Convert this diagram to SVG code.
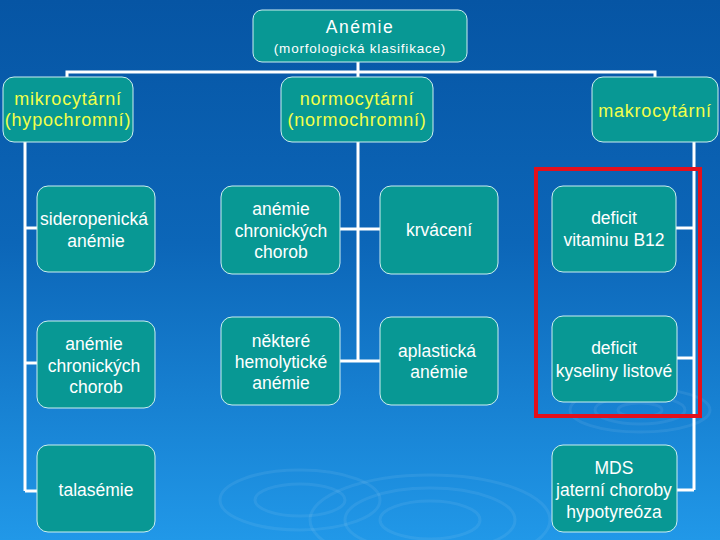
<svg xmlns="http://www.w3.org/2000/svg" width="720" height="540" viewBox="0 0 720 540">
<defs>
<linearGradient id="bg" x1="0" y1="0" x2="0" y2="1">
<stop offset="0" stop-color="#0655a4"/>
<stop offset="0.45" stop-color="#0c66b8"/>
<stop offset="1" stop-color="#2198e8"/>
</linearGradient>
<style>
.box{fill:#089894;stroke:#cdeff0;stroke-width:1}
.t{font-family:"Liberation Sans",Arial,sans-serif;font-size:17.5px;fill:#ffffff;text-anchor:middle}
.y{font-family:"Liberation Sans",Arial,sans-serif;font-size:18px;fill:#f2ff4a;text-anchor:middle;letter-spacing:0.8px}
.c{fill:none;stroke:#ffffff;stroke-width:3}
.r{fill:none;stroke:#ffffff;stroke-opacity:0.07;stroke-width:3}
</style>
</defs>
<rect width="720" height="540" fill="url(#bg)"/>
<g id="ripples">
<ellipse class="r" cx="640" cy="410" rx="70" ry="22"/>
<ellipse class="r" cx="640" cy="410" rx="45" ry="14"/>
<ellipse class="r" cx="640" cy="410" rx="22" ry="7"/>
<ellipse class="r" cx="430" cy="520" rx="120" ry="45"/>
<ellipse class="r" cx="430" cy="520" rx="85" ry="32"/>
<ellipse class="r" cx="430" cy="520" rx="50" ry="19"/>
<ellipse class="r" cx="300" cy="500" rx="80" ry="30"/>
<ellipse class="r" cx="300" cy="500" rx="45" ry="16"/>
</g>
<g id="connectors">
<line class="c" x1="358" y1="62" x2="358" y2="72"/>
<polyline class="c" points="67,77 67,72 655,72 655,77"/>
<line class="c" x1="358" y1="72" x2="358" y2="77"/>
<line class="c" x1="25" y1="142" x2="25" y2="491"/>
<line class="c" x1="25" y1="228" x2="37" y2="228"/>
<line class="c" x1="25" y1="363" x2="37" y2="363"/>
<line class="c" x1="25" y1="491" x2="37" y2="491"/>
<line class="c" x1="358" y1="142" x2="358" y2="361"/>
<line class="c" x1="340" y1="229" x2="380" y2="229"/>
<line class="c" x1="340" y1="361" x2="380" y2="361"/>
<line class="c" x1="694" y1="142" x2="694" y2="490"/>
<line class="c" x1="676" y1="228" x2="694" y2="228"/>
<line class="c" x1="677" y1="358" x2="694" y2="358"/>
<line class="c" x1="677" y1="490" x2="694" y2="490"/>
</g>
<g id="root">
<rect class="box" x="253" y="10" width="214" height="52" rx="9"/>
<text class="t" x="360" y="33" font-size="17" letter-spacing="1.5">Anémie</text>
<text class="t" x="360" y="53" style="font-size:13.5px" letter-spacing="0.8">(morfologická klasifikace)</text>
</g>
<g id="mikro">
<rect class="box" x="3" y="77" width="130" height="65" rx="11"/>
<text class="y" x="68" y="105">mikrocytární</text>
<text class="y" x="68" y="126">(hypochromní)</text>
</g>
<g id="normo">
<rect class="box" x="281" y="77" width="152" height="65" rx="11"/>
<text class="y" x="357" y="105">normocytární</text>
<text class="y" x="357" y="126">(normochromní)</text>
</g>
<g id="makro">
<rect class="box" x="592" y="77" width="126" height="65" rx="11"/>
<text class="y" x="655" y="117">makrocytární</text>
</g>
<g id="sideropenicka">
<rect class="box" x="37" y="186" width="118" height="86" rx="11"/>
<text class="t" x="94" y="225">sideropenická</text>
<text class="t" x="96" y="247">anémie</text>
</g>
<g id="acch1">
<rect class="box" x="37" y="321" width="118" height="87" rx="11"/>
<text class="t" x="94" y="350">anémie</text>
<text class="t" x="94" y="372">chronických</text>
<text class="t" x="96" y="393">chorob</text>
</g>
<g id="talasemie">
<rect class="box" x="37" y="445" width="118" height="87" rx="11"/>
<text class="t" x="96" y="496">talasémie</text>
</g>
<g id="acch2">
<rect class="box" x="221" y="186" width="119" height="88" rx="11"/>
<text class="t" x="281" y="215">anémie</text>
<text class="t" x="281" y="237">chronických</text>
<text class="t" x="281" y="258">chorob</text>
</g>
<g id="krvaceni">
<rect class="box" x="380" y="186" width="118" height="88" rx="11"/>
<text class="t" x="439" y="236">krvácení</text>
</g>
<g id="hemolyticke">
<rect class="box" x="221" y="317" width="119" height="88" rx="11"/>
<text class="t" x="281" y="347">některé</text>
<text class="t" x="281" y="368">hemolytické</text>
<text class="t" x="281" y="389">anémie</text>
</g>
<g id="aplasticka">
<rect class="box" x="380" y="317" width="118" height="88" rx="11"/>
<text class="t" x="437" y="357">aplastická</text>
<text class="t" x="439" y="378">anémie</text>
</g>
<g id="b12">
<rect class="box" x="552" y="186" width="124" height="86" rx="11"/>
<text class="t" x="614" y="224">deficit</text>
<text class="t" x="614" y="246">vitaminu B12</text>
</g>
<g id="folat">
<rect class="box" x="552" y="316" width="125" height="86" rx="11"/>
<text class="t" x="614" y="354">deficit</text>
<text class="t" x="614" y="377">kyseliny listové</text>
</g>
<g id="mds">
<rect class="box" x="552" y="445" width="125" height="87" rx="11"/>
<text class="t" x="614" y="474">MDS</text>
<text class="t" x="614" y="496">jaterní choroby</text>
<text class="t" x="614" y="518">hypotyreóza</text>
</g>
<g id="highlight">
<rect x="536" y="169" width="164" height="247" fill="none" stroke="#e3101c" stroke-width="4"/>
</g>
</svg>
